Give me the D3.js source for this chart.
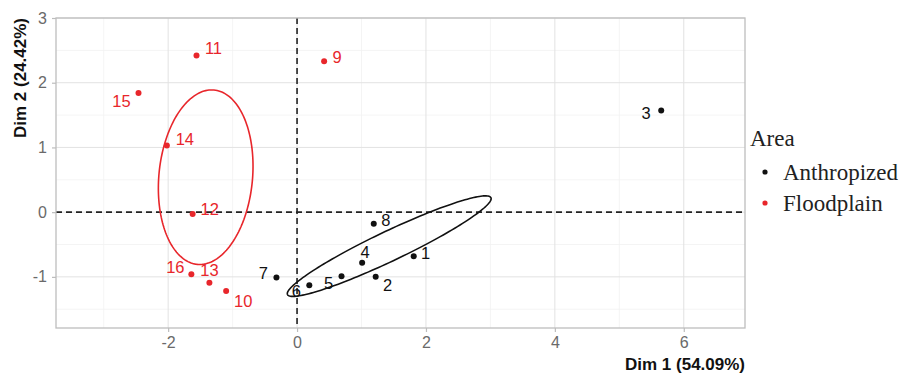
<!DOCTYPE html>
<html>
<head>
<meta charset="utf-8">
<script src="https://cdn.jsdelivr.net/npm/d3@7"></script>
<style>
  html, body { margin: 0; padding: 0; background: #fff; }
  svg { display: block; }
</style>
</head>
<body>
<svg id="chart" width="902" height="374"></svg>
<script>
// Individuals on the first two PCA dimensions
const ids    = ["1","2","3","4","5","6","7","8","9","10","11","12","13","14","15","16"];
const dim1   = [1.81, 1.22, 5.65, 1.01, 0.69, 0.19, -0.32, 1.19, 0.42, -1.10, -1.56, -1.62, -1.36, -2.02, -2.46, -1.64];
const dim2   = [-0.68, -1.00, 1.57, -0.78, -0.99, -1.13, -1.01, -0.18, 2.33, -1.22, 2.42, -0.03, -1.09, 1.03, 1.84, -0.96];
const area   = ["Anthropized","Anthropized","Anthropized","Anthropized","Anthropized","Anthropized","Anthropized","Anthropized",
                "Floodplain","Floodplain","Floodplain","Floodplain","Floodplain","Floodplain","Floodplain","Floodplain"];
const groups = ["Anthropized", "Floodplain"];
const groupColors = ["#111111", "#e8262b"];

const xTicks = [-2, 0, 2, 4, 6];
const yTicks = [-1, 0, 1, 2, 3];
const xMinor = [-3, -1, 1, 3, 5];
const yMinor = [-1.5, -0.5, 0.5, 1.5, 2.5];
const xDomain = [-3.74, 6.95];
const yDomain = [-1.79, 3.0];

const xTitle = "Dim 1 (54.09%)";
const yTitle = "Dim 2 (24.42%)";
const legendTitle = "Area";

// label placement (pixel offsets from each point, repel-style)
const labelDx = [12, 12, -15, 3, -13, -13, -13, 12, 13, 17, 17, 17, 0, 18, -17, -16];
const labelDy = [-3, 8, 3, -11, 7, 6, -4, -4, -4, 10, -7, -5, -13, -6, 8, -7];

const points = ids.map((id, i) => ({ id, x: dim1[i], y: dim2[i], g: area[i], dx: labelDx[i], dy: labelDy[i] }));

const panel = { left: 56, right: 745, top: 18, bottom: 328 };
const x = d3.scaleLinear().domain(xDomain).range([panel.left, panel.right]);
const y = d3.scaleLinear().domain(yDomain).range([panel.bottom, panel.top]);
const color = d3.scaleOrdinal().domain(groups).range(groupColors);

const svg = d3.select("#chart");

// grid
const grid = svg.append("g");
grid.selectAll(".xminor").data(xMinor).join("line")
  .attr("x1", d => x(d)).attr("x2", d => x(d)).attr("y1", panel.top).attr("y2", panel.bottom)
  .attr("stroke", "#f1f1f1").attr("stroke-width", 0.8);
grid.selectAll(".yminor").data(yMinor).join("line")
  .attr("y1", d => y(d)).attr("y2", d => y(d)).attr("x1", panel.left).attr("x2", panel.right)
  .attr("stroke", "#f1f1f1").attr("stroke-width", 0.8);
grid.selectAll(".xmajor").data(xTicks).join("line")
  .attr("x1", d => x(d)).attr("x2", d => x(d)).attr("y1", panel.top).attr("y2", panel.bottom)
  .attr("stroke", "#e2e2e2").attr("stroke-width", 1);
grid.selectAll(".ymajor").data(yTicks).join("line")
  .attr("y1", d => y(d)).attr("y2", d => y(d)).attr("x1", panel.left).attr("x2", panel.right)
  .attr("stroke", "#e2e2e2").attr("stroke-width", 1);

// reference lines at the origin
svg.append("line").attr("x1", x(0)).attr("x2", x(0)).attr("y1", panel.top).attr("y2", panel.bottom)
  .attr("stroke", "#222").attr("stroke-width", 1.6).attr("stroke-dasharray", "6,4");
svg.append("line").attr("y1", y(0)).attr("y2", y(0)).attr("x1", panel.left).attr("x2", panel.right)
  .attr("stroke", "#222").attr("stroke-width", 1.6).attr("stroke-dasharray", "6,4");

// 95% confidence ellipses around each group mean
function confidenceEllipse(pts) {
  const n = pts.length;
  const mx = d3.mean(pts, p => p.x), my = d3.mean(pts, p => p.y);
  let sxx = 0, syy = 0, sxy = 0;
  pts.forEach(p => { sxx += (p.x - mx) ** 2; syy += (p.y - my) ** 2; sxy += (p.x - mx) * (p.y - my); });
  sxx /= (n - 1); syy /= (n - 1); sxy /= (n - 1);
  // Cholesky factor of the covariance
  const l11 = Math.sqrt(sxx), l21 = sxy / l11, l22 = Math.sqrt(syy - l21 * l21);
  const k = Math.sqrt(5.991 / n);
  return d3.range(0, 361, 2).map(a => {
    const t = a * Math.PI / 180, c = Math.cos(t), s = Math.sin(t);
    return [mx + k * l11 * c, my + k * (l21 * c + l22 * s)];
  });
}
const ellLine = d3.line().x(d => x(d[0])).y(d => y(d[1])).curve(d3.curveLinearClosed);
groups.forEach(g => {
  const pts = points.filter(p => p.g === g);
  svg.append("path").attr("d", ellLine(confidenceEllipse(pts)))
    .attr("fill", "none").attr("stroke", color(g)).attr("stroke-width", 1.6);
});

// points and labels
svg.append("g").selectAll("circle").data(points).join("circle")
  .attr("cx", d => x(d.x)).attr("cy", d => y(d.y)).attr("r", 3)
  .attr("fill", d => color(d.g));
svg.append("g").selectAll("text").data(points).join("text")
  .attr("x", d => x(d.x) + d.dx).attr("y", d => y(d.y) + d.dy)
  .attr("text-anchor", "middle").attr("dy", "0.36em")
  .attr("font-family", "Liberation Sans, Arial, sans-serif").attr("font-size", 16.5)
  .attr("fill", d => color(d.g)).text(d => d.id);

// panel border
svg.append("rect").attr("x", panel.left).attr("y", panel.top)
  .attr("width", panel.right - panel.left).attr("height", panel.bottom - panel.top)
  .attr("fill", "none").attr("stroke", "#bdbdbd").attr("stroke-width", 1.3);

// axes
const axisX = svg.append("g").attr("transform", `translate(0,${panel.bottom})`)
  .call(d3.axisBottom(x).tickValues(xTicks).tickSize(4).tickPadding(5).tickFormat(d3.format("d")));
const axisY = svg.append("g").attr("transform", `translate(${panel.left},0)`)
  .call(d3.axisLeft(y).tickValues(yTicks).tickSize(4).tickPadding(5).tickFormat(d3.format("d")));
[axisX, axisY].forEach(a => {
  a.select(".domain").remove();
  a.selectAll(".tick line").attr("stroke", "#bdbdbd").attr("stroke-width", 1.2);
  a.selectAll(".tick text").attr("fill", "#6a6a6a").attr("font-size", 16)
    .attr("font-family", "Liberation Sans, Arial, sans-serif");
});
axisX.selectAll(".tick text").text(d => d < 0 ? "-" + Math.abs(d) : d);
axisY.selectAll(".tick text").text(d => d < 0 ? "-" + Math.abs(d) : d);

// axis titles
svg.append("text").attr("x", panel.right).attr("y", 370).attr("text-anchor", "end")
  .attr("font-family", "Liberation Sans, Arial, sans-serif").attr("font-weight", "bold")
  .attr("font-size", 17).attr("fill", "#111").text(xTitle);
svg.append("text").attr("transform", `translate(26,${panel.top}) rotate(-90)`).attr("text-anchor", "end")
  .attr("font-family", "Liberation Sans, Arial, sans-serif").attr("font-weight", "bold")
  .attr("font-size", 17).attr("fill", "#111").text(yTitle);

// legend
const legend = svg.append("g").attr("transform", "translate(750,0)");
legend.append("text").attr("x", 0).attr("y", 146)
  .attr("font-family", "Liberation Serif, Times New Roman, serif").attr("font-size", 23)
  .attr("fill", "#222").text(legendTitle);
const items = legend.selectAll(".item").data(groups).join("g")
  .attr("transform", (d, i) => `translate(0,${172 + i * 31})`);
items.append("circle").attr("cx", 15).attr("cy", 0).attr("r", 2.6).attr("fill", d => color(d));
items.append("text").attr("x", 33).attr("y", 0).attr("dy", "0.33em")
  .attr("font-family", "Liberation Serif, Times New Roman, serif").attr("font-size", 23)
  .attr("fill", "#222").text(d => d);
</script>
</body>
</html>
